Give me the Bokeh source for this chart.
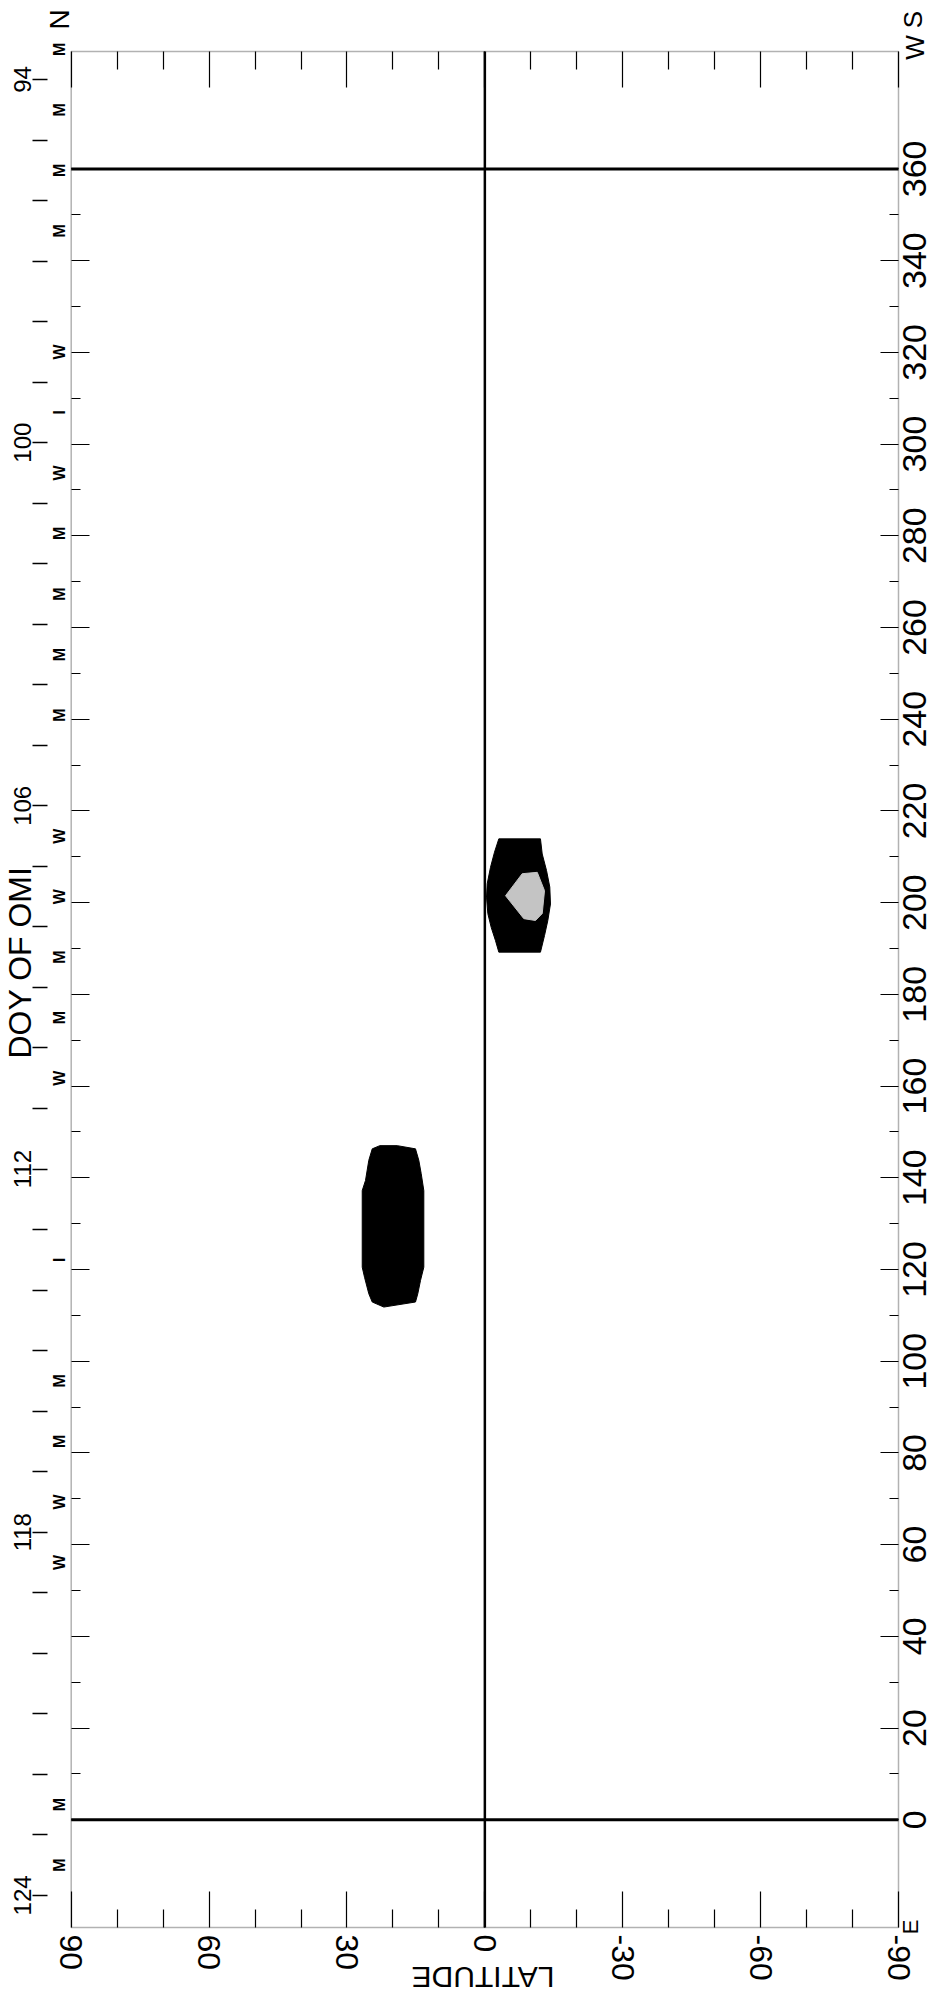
import math
from bokeh.plotting import figure
from bokeh.models import (Range1d, LinearAxis, FixedTicker, LabelSet, Label,
                          BoxAnnotation, ColumnDataSource)
from bokeh.core.properties import value
from bokeh.embed import file_html
from bokeh.resources import INLINE

FONT = "Liberation Sans"

# ---------------- data ----------------
lat_major = [90, 60, 30, 0, -30, -60, -90]
lat_major_labels = ["90", "60", "30", "0", "-30", "-60", "-90"]
lat_minor = [80, 70, 50, 40, 20, 10, -10, -20, -40, -50, -70, -80]

lon_major = [0, 20, 40, 60, 80, 100, 120, 140, 160, 180,
             200, 220, 240, 260, 280, 300, 320, 340, 360]
lon_major_labels = ["0", "20", "40", "60", "80", "100", "120", "140", "160", "180",
                    "200", "220", "240", "260", "280", "300", "320", "340", "360"]
lon_minor = [10, 30, 50, 70, 90, 110, 130, 150, 170, 190,
             210, 230, 250, 270, 290, 310, 330, 350]

doy_ticks = [94, 95, 96, 97, 98, 99, 100, 101, 102, 103, 104, 105, 106, 107, 108,
             109, 110, 111, 112, 113, 114, 115, 116, 117, 118, 119, 120, 121, 122,
             123, 124]
doy_label_days = [94, 100, 106, 112, 118, 124]
doy_label_text = ["94", "100", "106", "112", "118", "124"]

obs_doy = [93.5, 94.5, 95.5, 96.5, 98.5, 99.5, 100.5, 101.5, 102.5, 103.5, 104.5,
           106.5, 107.5, 108.5, 109.5, 110.5, 113.5, 115.5, 116.5, 117.5, 118.5,
           122.5, 123.5]
obs_code = ["M", "M", "M", "M", "W", "I", "W", "M", "M", "M", "M",
            "W", "W", "M", "M", "W", "I", "M", "M", "W", "W",
            "M", "M"]

equator_lat = [0]
boundary_lon = [0, 360]

# region A (northern, around lon 110-147)
blob_a_lat = [22.85, 19.07, 15.09, 14.37, 13.85, 13.28, 13.28, 14.0, 14.59, 15.09,
              21.98, 24.5, 25.25, 26.18, 26.68, 26.68, 25.97, 25.25, 24.5]
blob_a_lon = [147.0, 147.0, 146.3, 143.8, 140.9, 137.2, 120.5, 117.6, 114.7, 112.9,
              111.8, 112.9, 114.7, 118.3, 120.5, 137.2, 139.4, 143.8, 146.3]

# region B (southern, around lon 189-214)
blob_b_lat = [-3.04, -12.1, -12.48, -13.42, -14.13, -14.28, -13.7, -12.98, -12.1,
              -3.04, -2.32, -1.38, -0.65, -0.36, -0.51, -1.23, -2.1]
blob_b_lon = [213.9, 213.9, 210.6, 207.0, 203.4, 199.7, 196.1, 192.8, 189.2,
              189.2, 191.7, 194.6, 197.6, 201.2, 204.1, 207.7, 211.0]

# light core inside region B
core_b_lat = [-4.5, -8.13, -11.4, -12.98, -12.48, -11.02, -8.48]
core_b_lon = [201.5, 206.3, 206.6, 202.6, 197.6, 196.1, 196.5]

LAT_BOX = (90, -90)          # left edge, right edge of the map box
LON_BOX = (-23.5, 385.6)     # bottom edge, top edge of the map box
DOY_AT_LON0 = 122.75
DEG_PER_DAY = 13.2

# ---------------- layout (canvas pixels) ----------------
W, H = 934, 1997
BOX_L, BOX_R, BOX_T, BOX_B = 70.7, 898.0, 51.0, 1927.0
PX_LAT = (BOX_R - BOX_L) / (LAT_BOX[0] - LAT_BOX[1])
PX_LON = (BOX_B - BOX_T) / (LON_BOX[1] - LON_BOX[0])

x_start = LAT_BOX[0] + BOX_L / PX_LAT
x_end = LAT_BOX[1] - (W - BOX_R) / PX_LAT
y_end = LON_BOX[1] + BOX_T / PX_LON
y_start = LON_BOX[0] - (H - BOX_B) / PX_LON


def lat_at(cx):
    return x_start - cx / PX_LAT


def lon_at(cy):
    return y_end - cy / PX_LON


p = figure(width=W, height=H,
           x_range=Range1d(x_start, x_end), y_range=Range1d(y_start, y_end),
           output_backend="svg", toolbar_location=None,
           x_axis_location=None, y_axis_location=None,
           min_border_left=0, min_border_right=0,
           min_border_top=0, min_border_bottom=0,
           background_fill_color="white", border_fill_color="white",
           outline_line_color=None)
p.grid.grid_line_color = None
p.extra_y_ranges = {"doy": Range1d(DOY_AT_LON0 - y_start / DEG_PER_DAY,
                                   DOY_AT_LON0 - y_end / DEG_PER_DAY)}


def ticks_axis(ticks, minor, tin, tin_minor, loc, **kw):
    opts = dict(major_label_text_color=None)
    opts.update(kw)
    return LinearAxis(ticker=FixedTicker(ticks=ticks, minor_ticks=minor),
                      fixed_location=loc,
                      axis_line_color=None,
                      major_tick_in=tin, major_tick_out=0,
                      minor_tick_in=tin_minor, minor_tick_out=0,
                      major_tick_line_color="black", minor_tick_line_color="black",
                      major_tick_line_width=1.2, minor_tick_line_width=1.2,
                      **opts)


# map box
p.add_layout(BoxAnnotation(left=LAT_BOX[0], right=LAT_BOX[1],
                           bottom=LON_BOX[0], top=LON_BOX[1],
                           fill_color=None, line_color="black", line_width=1.5))

# latitude axes (bottom with labels, top ticks only)
p.add_layout(ticks_axis(lat_major, lat_minor, 36, 18, LON_BOX[0],
                        major_label_overrides=dict(zip(lat_major, lat_major_labels)),
                        major_label_orientation="vertical",
                        major_label_standoff=7,
                        major_label_text_font=FONT,
                        major_label_text_font_size="32px",
                        major_label_text_color="black"), "below")
p.add_layout(ticks_axis(lat_major, lat_minor, 36, 18, LON_BOX[1]), "above")
# longitude axes (ticks only)
p.add_layout(ticks_axis(lon_major, lon_minor, 18, 9, LAT_BOX[1]), "right")
p.add_layout(ticks_axis(lon_major, lon_minor, 18, 9, LAT_BOX[0]), "left")

# DOY axis: detached dashes outside the left edge
p.add_layout(LinearAxis(y_range_name="doy",
                        ticker=FixedTicker(ticks=doy_ticks),
                        fixed_location=LAT_BOX[0],
                        axis_line_color=None,
                        major_tick_in=-24, major_tick_out=39,
                        minor_tick_in=0, minor_tick_out=0,
                        major_tick_line_color="black", major_tick_line_width=1.5,
                        major_label_text_color=None), "left")

# reference lines, limited to the map box
p.segment(x0=equator_lat, y0=[LON_BOX[0]] * len(equator_lat),
          x1=equator_lat, y1=[LON_BOX[1]] * len(equator_lat),
          line_color="black", line_width=2.5)
p.segment(x0=[LAT_BOX[0]] * len(boundary_lon), y0=boundary_lon,
          x1=[LAT_BOX[1]] * len(boundary_lon), y1=boundary_lon,
          line_color="black", line_width=3)

# regions
p.patches(xs=[blob_a_lat, blob_b_lat], ys=[blob_a_lon, blob_b_lon],
          fill_color="black", line_color="black", line_width=1)
p.patch(core_b_lat, core_b_lon, fill_color="#c4c4c4", line_color="#c4c4c4", line_width=1)

# longitude labels on the right
lon_src = ColumnDataSource(dict(x=[LAT_BOX[1]] * len(lon_major), y=lon_major,
                                text=lon_major_labels))
p.add_layout(LabelSet(source=lon_src, x="x", y="y", text="text", x_offset=16,
                      angle=math.pi / 2, text_align="center", text_baseline="middle",
                      text_font=value(FONT), text_font_size="34px", text_color="black"))

# DOY labels on the left
doy_src = ColumnDataSource(dict(x=[LAT_BOX[0]] * len(doy_label_days), y=doy_label_days,
                                text=doy_label_text))
p.add_layout(LabelSet(source=doy_src, x="x", y="y", text="text", y_range_name="doy",
                      x_offset=-49, angle=math.pi / 2, text_align="center",
                      text_baseline="middle", text_font=value(FONT),
                      text_font_size="24px", text_color="black"))

# observatory letters
obs_src = ColumnDataSource(dict(x=[LAT_BOX[0]] * len(obs_doy), y=obs_doy, text=obs_code))
p.add_layout(LabelSet(source=obs_src, x="x", y="y", text="text", y_range_name="doy",
                      x_offset=-12, angle=math.pi / 2, text_align="center",
                      text_baseline="middle", text_font=value(FONT),
                      text_font_size="16px", text_font_style="bold",
                      text_color="black"))


def add_text(txt, cx, cy, size, angle=math.pi / 2):
    p.add_layout(Label(x=lat_at(cx), y=lon_at(cy), text=txt, angle=angle,
                       text_align="center", text_baseline="middle",
                       text_font=FONT, text_font_size=size, text_color="black"))


add_text("N", 58.5, 19, "28px")
add_text("S", 912, 19, "26px")
add_text("W", 914, 47, "26px")
add_text("E", 910, 1926.5, "22px")
add_text("LATITUDE", 482.5, 1977, "30px", angle=math.pi)
add_text("DOY OF OMI", 19.5, 962, "32px")

open("out.html", "w").write(file_html(p, INLINE))
